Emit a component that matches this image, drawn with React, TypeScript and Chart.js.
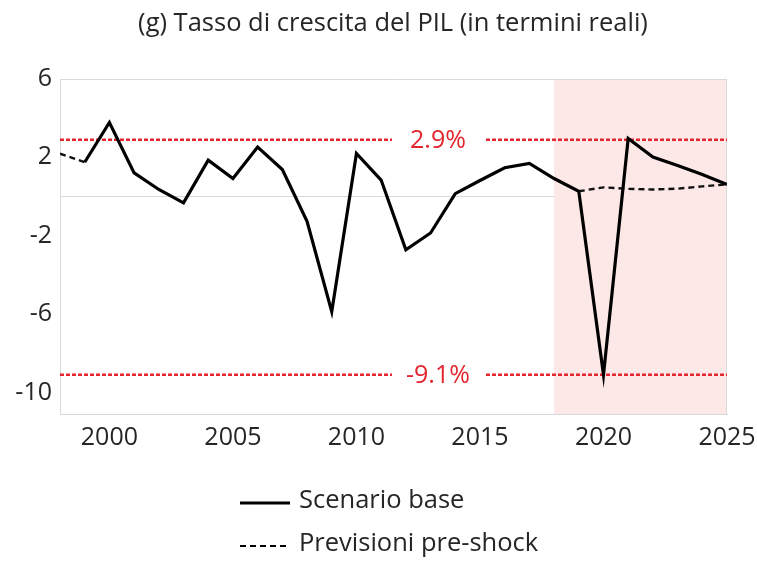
import { useEffect, useRef } from "react";
import { Chart, registerables } from "chart.js";
Chart.register(...registerables);

const TITLE = "(g) Tasso di crescita del PIL (in termini reali)";
const YEARS = [1998, 1999, 2000, 2001, 2002, 2003, 2004, 2005, 2006, 2007, 2008, 2009, 2010, 2011, 2012, 2013, 2014, 2015, 2016, 2017, 2018, 2019, 2020, 2021, 2022, 2023, 2024, 2025];
const BASE_VALUES: (number | null)[] = [null, 1.75, 3.78, 1.21, 0.36, -0.32, 1.86, 0.92, 2.53, 1.38, -1.27, -5.88, 2.2, 0.84, -2.72, -1.86, 0.15, 0.82, 1.47, 1.69, 0.92, 0.27, -9.1, 2.96, 2.02, 1.59, 1.13, 0.62];
const PRESHOCK_VALUES: (number | null)[] = [2.19, 1.75, null, null, null, null, null, null, null, null, null, null, null, null, null, null, null, null, null, null, null, 0.27, 0.47, 0.39, 0.36, 0.4, 0.52, 0.62];
const REF_LEVELS = [2.9, -9.1];
const REF_LABELS = ["2.9%", "-9.1%"];
const REF_LABEL_YEAR = 2013.3;
const SHADE_FROM = 2018;
const SHADE_TO = 2025;
const X_TICKS = [2000, 2005, 2010, 2015, 2020, 2025];
const Y_TICKS = [6, 2, 0, -2, -6, -10];
const SERIES_NAMES = ["Scenario base", "Previsioni pre-shock"];

const FONT = "'Open Sans', Lato, sans-serif";
const RED = "#e3262e";
const TEXT = "#262626";

export default function App() {
  const ref = useRef<HTMLCanvasElement | null>(null);
  useEffect(() => {
    if (!ref.current) return;
    const pts = (vals: (number | null)[]) => YEARS.map((y, i) => ({ x: y, y: vals[i] }));
    const refLine = (lvl: number) => [
      { x: YEARS[0], y: lvl },
      { x: YEARS[YEARS.length - 1], y: lvl },
    ];
    const decor = {
      id: "decor",
      beforeDatasetsDraw(chart: any) {
        const { ctx, chartArea: a, scales } = chart;
        const x0 = scales.x.getPixelForValue(SHADE_FROM);
        const x1 = scales.x.getPixelForValue(SHADE_TO);
        ctx.save();
        ctx.fillStyle = "#fde8e8";
        ctx.fillRect(x0, a.top, x1 - x0, a.bottom - a.top);
        ctx.strokeStyle = "#d9d9d9";
        ctx.lineWidth = 1;
        ctx.beginPath();
        ctx.moveTo(a.left, a.top + 0.5);
        ctx.lineTo(a.right, a.top + 0.5);
        ctx.moveTo(a.right - 0.5, a.top);
        ctx.lineTo(a.right - 0.5, a.bottom);
        ctx.stroke();
        ctx.restore();
      },
      afterDatasetsDraw(chart: any) {
        const { ctx, scales } = chart;
        ctx.save();
        ctx.font = `25px ${FONT}`;
        ctx.textAlign = "center";
        ctx.textBaseline = "middle";
        REF_LEVELS.forEach((lvl, i) => {
          const cx = scales.x.getPixelForValue(REF_LABEL_YEAR);
          const cy = scales.y.getPixelForValue(lvl);
          ctx.fillStyle = "#ffffff";
          ctx.fillRect(cx - 46, cy - 6, 92, 12);
          ctx.fillStyle = RED;
          ctx.fillText(REF_LABELS[i], cx, cy + 1);
        });
        ctx.restore();
      },
      afterDraw(chart: any) {
        const { ctx } = chart;
        ctx.save();
        ctx.strokeStyle = "#000";
        ctx.lineWidth = 3;
        ctx.beginPath();
        ctx.moveTo(240, 503);
        ctx.lineTo(290, 503);
        ctx.stroke();
        ctx.lineWidth = 2.2;
        ctx.setLineDash([6, 4]);
        ctx.beginPath();
        ctx.moveTo(240, 546);
        ctx.lineTo(290, 546);
        ctx.stroke();
        ctx.setLineDash([]);
        ctx.fillStyle = TEXT;
        ctx.font = `25.5px ${FONT}`;
        ctx.textBaseline = "middle";
        ctx.textAlign = "left";
        ctx.fillText(SERIES_NAMES[0], 299, 501);
        ctx.fillText(SERIES_NAMES[1], 299, 544);
        ctx.textAlign = "center";
        ctx.fillText(TITLE, 393, 24);
        ctx.restore();
      },
    };
    const chart = new Chart(ref.current, {
      type: "line",
      data: {
        datasets: [
          {
            label: SERIES_NAMES[0],
            data: pts(BASE_VALUES),
            borderColor: "#000",
            borderWidth: 3.2,
            pointRadius: 0,
            tension: 0,
            spanGaps: false,
          },
          {
            label: SERIES_NAMES[1],
            data: pts(PRESHOCK_VALUES),
            borderColor: "#111",
            borderWidth: 2.4,
            borderDash: [6, 4],
            pointRadius: 0,
            tension: 0,
            spanGaps: false,
          },
          ...REF_LEVELS.map((lvl) => ({
            label: String(lvl),
            data: refLine(lvl),
            borderColor: RED,
            borderWidth: 2.5,
            borderDash: [4, 2],
            pointRadius: 0,
          })),
        ],
      },
      options: {
        animation: false,
        responsive: false,
        layout: { padding: { top: 79, right: 30, left: 0, bottom: 0 } },
        plugins: { legend: { display: false }, tooltip: { enabled: false } },
        scales: {
          x: {
            type: "linear",
            min: YEARS[0],
            max: YEARS[YEARS.length - 1],
            afterBuildTicks: (s: any) => {
              s.ticks = X_TICKS.map((v) => ({ value: v }));
            },
            afterFit: (s: any) => {
              s.height = 147;
              s.paddingLeft = 0;
              s.paddingRight = 0;
            },
            grid: { display: false, drawTicks: false },
            border: { display: true, color: "#d9d9d9", width: 1 },
            ticks: {
              padding: 9,
              color: TEXT,
              font: { family: FONT, size: 25 },
              maxRotation: 0,
              callback: (v: any) => String(v),
            },
          },
          y: {
            min: -11.1,
            max: 6,
            afterBuildTicks: (s: any) => {
              s.ticks = Y_TICKS.map((v) => ({ value: v }));
            },
            afterFit: (s: any) => {
              s.width = 60;
              s.paddingTop = 0;
              s.paddingBottom = 0;
            },
            grid: {
              drawTicks: false,
              color: (c: any) => (c.tick && c.tick.value === 0 ? "#d9d9d9" : "rgba(0,0,0,0)"),
            },
            border: { display: true, color: "#d9d9d9", width: 1 },
            ticks: {
              padding: 8,
              color: TEXT,
              font: { family: FONT, size: 25 },
              callback: (v: any) => (v === 0 ? "" : String(v)),
            },
          },
        },
      },
      plugins: [decor],
    });
    return () => chart.destroy();
  }, []);
  return (
    <div style={{ position: "fixed", left: 0, top: 0, width: 757, height: 561, background: "#fff" }}>
      <canvas ref={ref} width={757} height={561} style={{ width: 757, height: 561 }} />
    </div>
  );
}
